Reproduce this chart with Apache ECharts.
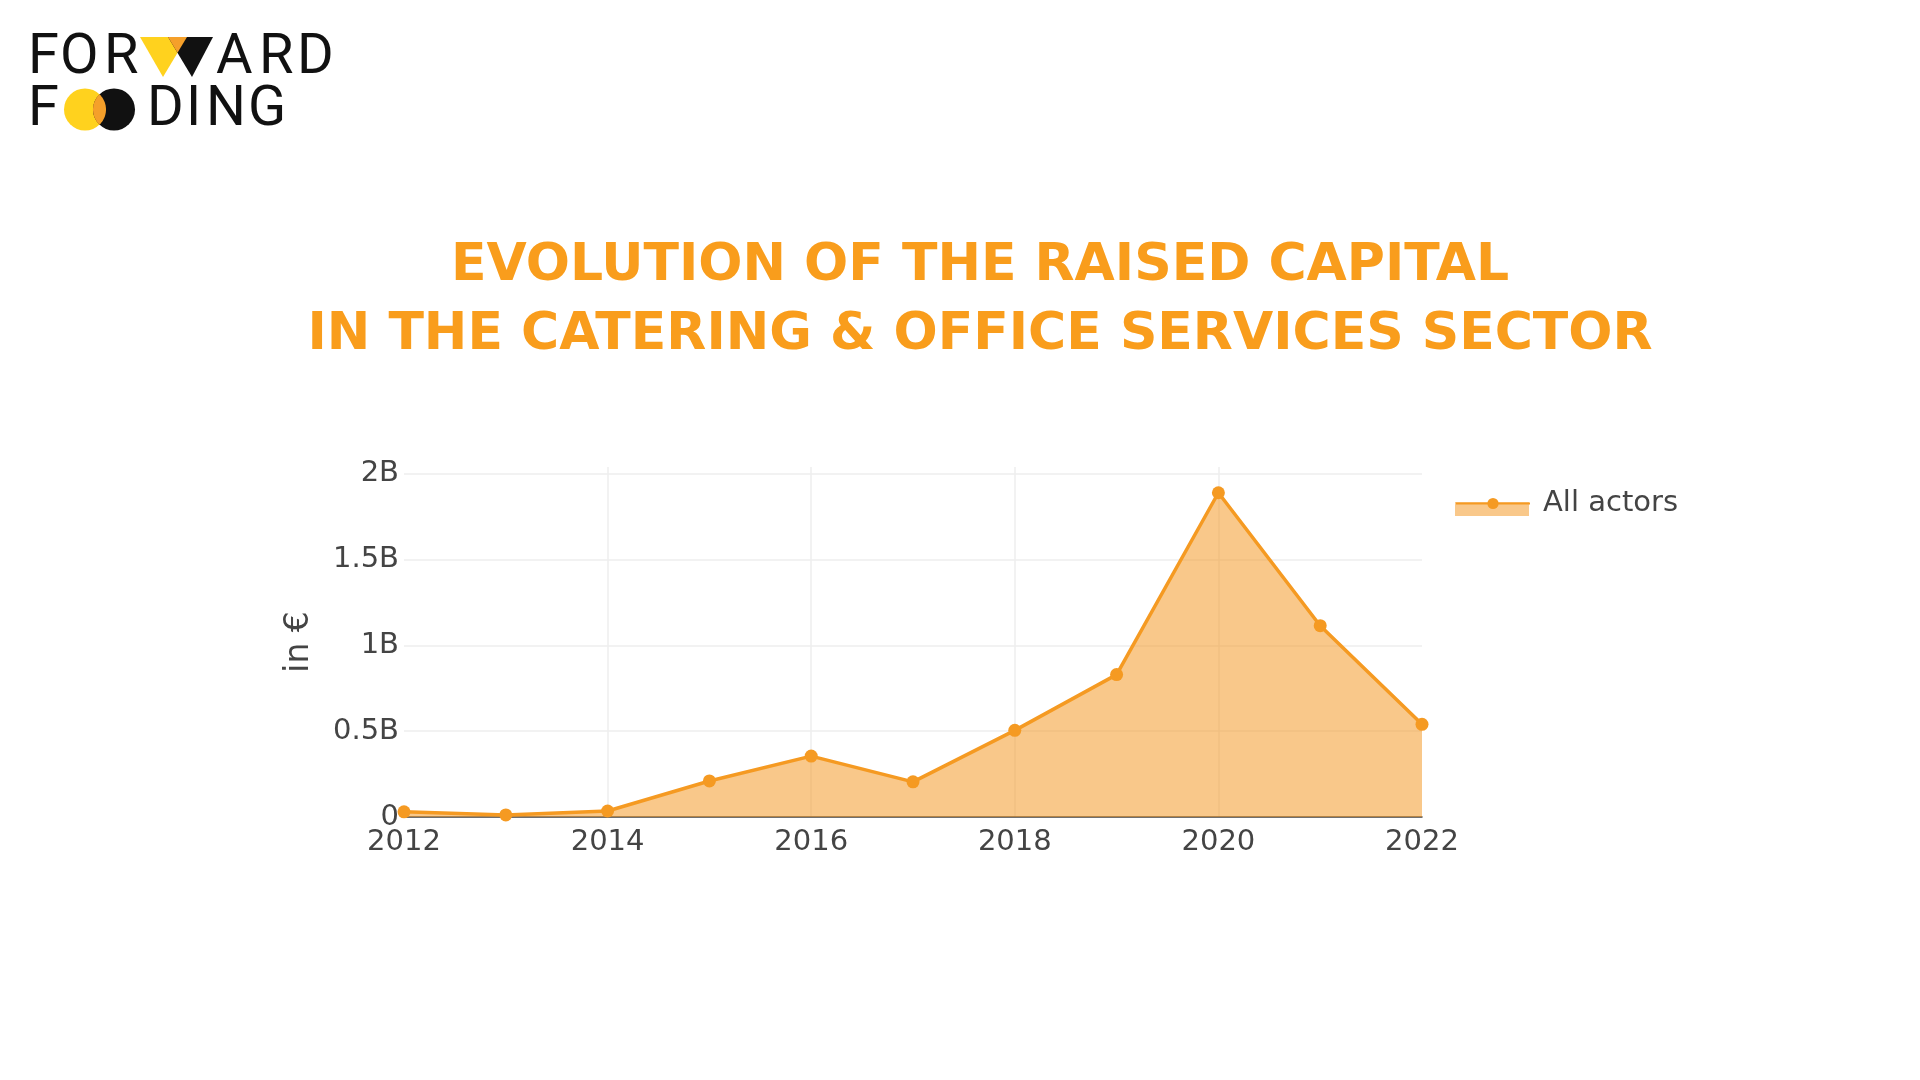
<!DOCTYPE html>
<html>
<head>
<meta charset="utf-8">
<script src="https://cdn.jsdelivr.net/npm/echarts@6/dist/echarts.min.js"></script>
<style>
html,body{margin:0;padding:0;background:#fff;}
#chart{width:1920px;height:1080px;}
</style>
</head>
<body>
<div id="chart"></div>
<script>
// ---- data ----
const years = [2012, 2013, 2014, 2015, 2016, 2017, 2018, 2019, 2020, 2021, 2022];
const raisedCapital = [0.03e9, 0.012e9, 0.035e9, 0.21e9, 0.355e9, 0.205e9, 0.505e9, 0.83e9, 1.89e9, 1.115e9, 0.54e9];
const seriesName = 'All actors';
const titleLines = ['EVOLUTION OF THE RAISED CAPITAL', 'IN THE CATERING & OFFICE SERVICES SECTOR'];
const yAxisName = 'in €';
const xTicks = {min: 2012, max: 2022, interval: 2};
const yTicks = {min: 0, max: 2.04e9, interval: 0.5e9};

// ---- styles ----
const ORANGE = '#F59A22';
const FILL = 'rgba(243,150,30,0.52)';
const GRID = '#eeeeee';
const TXT = '#444444';
const FONT = 'DejaVu Sans';

const chart = echarts.init(document.getElementById('chart'));

function yFmt(v) {
  if (v === 0) return '0';
  return (v / 1e9) + 'B';
}

const logoFont = 'normal 400 56px Roboto';
function letter(ch, x, y) {
  return {type: 'text', x: x, y: y, style: {text: ch, font: logoFont, fill: '#111', textAlign: 'left', textVerticalAlign: 'middle'}};
}

// lens (intersection of the two logo circles) as a polygon
function lens(c1x, c2x, cy, r) {
  const pts = [];
  const n = 24;
  const a = Math.acos(((c2x - c1x) / 2) / r);
  for (let i = 0; i <= n; i++) {
    const t = -a + (2 * a) * i / n;
    pts.push([c1x + r * Math.cos(t), cy + r * Math.sin(t)]);
  }
  for (let i = 0; i <= n; i++) {
    const t = Math.PI - a + (2 * a) * i / n;
    pts.push([c2x + r * Math.cos(t), cy + r * Math.sin(t)]);
  }
  return pts;
}

chart.setOption({
  backgroundColor: '#ffffff',
  animation: false,
  title: {
    text: titleLines.join('\n'),
    left: 975,
    top: 227,
    textAlign: 'center',
    textStyle: {fontFamily: FONT, fontWeight: 'bold', fontSize: 52, color: '#F99D1C', lineHeight: 69}
  },
  grid: {left: 404, right: 498, top: 467, bottom: 263, containLabel: false},
  legend: {
    data: [seriesName],
    left: 1450,
    top: 484,
    itemWidth: 74,
    itemHeight: 14,
    textStyle: {fontFamily: FONT, fontSize: 29, color: TXT, padding: [0, 0, 0, 8]}
  },
  xAxis: {
    type: 'value',
    min: xTicks.min, max: xTicks.max, interval: xTicks.interval,
    axisLine: {show: true, onZero: true, lineStyle: {color: TXT, width: 1.5}},
    axisTick: {show: false},
    axisLabel: {fontFamily: FONT, fontSize: 29, color: TXT, margin: 11, formatter: v => String(v)},
    splitLine: {show: true, showMinLine: false, showMaxLine: false, lineStyle: {color: GRID, width: 1.5}}
  },
  yAxis: {
    type: 'value',
    min: yTicks.min, max: yTicks.max, interval: yTicks.interval,
    name: yAxisName,
    nameLocation: 'middle',
    nameGap: 88,
    nameRotate: 90,
    nameTextStyle: {fontFamily: FONT, fontSize: 33, color: TXT},
    axisLine: {show: false},
    axisTick: {show: false},
    axisLabel: {fontFamily: FONT, fontSize: 29, color: TXT, margin: 5, formatter: yFmt, showMaxLabel: false},
    splitLine: {show: true, showMinLine: true, showMaxLine: false, lineStyle: {color: GRID, width: 1.5}}
  },
  series: [{
    name: seriesName,
    type: 'line',
    data: years.map((y, i) => [y, raisedCapital[i]]),
    symbol: 'circle',
    symbolSize: 13,
    clip: true,
    lineStyle: {color: ORANGE, width: 3.5},
    itemStyle: {color: ORANGE},
    areaStyle: {color: FILL, opacity: 1, origin: 'start'}
  }],
  graphic: [
    {type: 'rect', z: 0, shape: {x: 1455, y: 502, width: 74, height: 14}, style: {fill: FILL}},
    letter('F', 28, 59), letter('O', 60, 59), letter('R', 104, 59),
    {type: 'polygon', shape: {points: [[140, 37], [187, 37], [163, 77]]}, style: {fill: '#FFD21E'}},
    {type: 'polygon', shape: {points: [[168, 37], [213, 37], [192, 77]]}, style: {fill: '#111'}},
    {type: 'polygon', shape: {points: [[168, 37], [187, 37], [177.5, 52.8]]}, style: {fill: '#F5A02A'}},
    letter('A', 216, 59), letter('R', 259, 59), letter('D', 297, 59),
    letter('F', 28, 111),
    {type: 'circle', shape: {cx: 85, cy: 109.5, r: 21}, style: {fill: '#FFD21E'}},
    {type: 'circle', shape: {cx: 114, cy: 109.5, r: 21}, style: {fill: '#111'}},
    {type: 'polygon', shape: {points: lens(85, 114, 109.5, 21)}, style: {fill: '#F5A02A'}},
    letter('D', 147, 111), letter('I', 186, 111), letter('N', 206, 111), letter('G', 248, 111)
  ]
});
</script>
</body>
</html>
